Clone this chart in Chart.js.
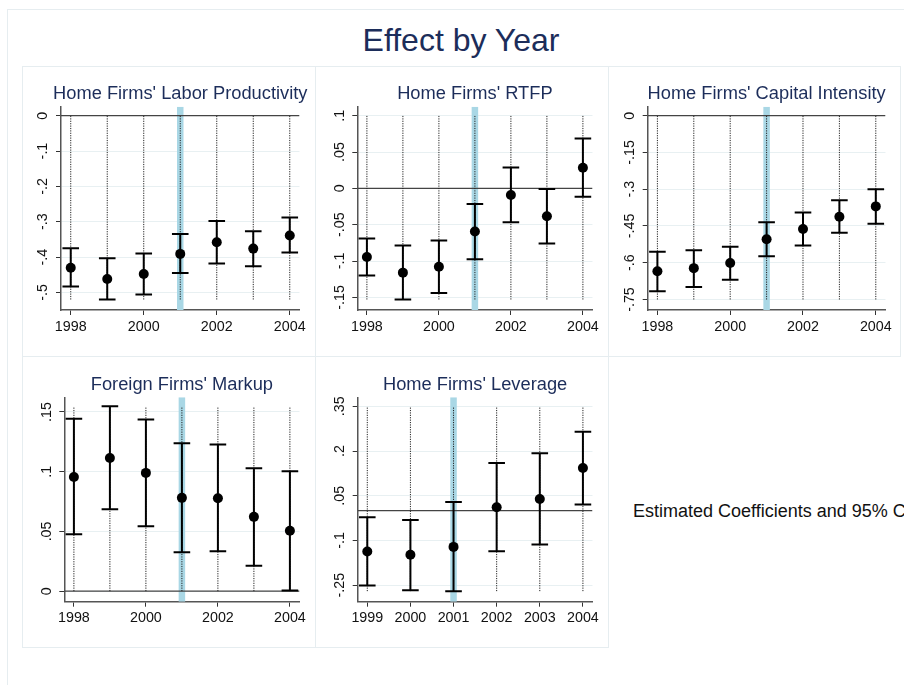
<!DOCTYPE html>
<html>
<head>
<meta charset="utf-8">
<title>Effect by Year</title>
<script src="https://cdn.jsdelivr.net/npm/chart.js@4"></script>
<style>
    html, body { margin: 0; padding: 0; background: #fff; }
    body { width: 904px; height: 685px; overflow: hidden; position: relative; font-family: "Liberation Sans", Arial, Helvetica, sans-serif; }
    .frame { position: absolute; left: 7px; top: 9px; width: 1200px; height: 1200px; border: 1px solid #e6edf0; }
    .title { position: absolute; left: 0; width: 922px; top: 24px; text-align: center; font-size: 32px; line-height: 1; color: #1c2d5a; }
    .panel { position: absolute; box-sizing: border-box; border: 1px solid #e6edf0; }
    .panel canvas { position: absolute; left: -1px; top: -1px; }
    .note { position: absolute; left: 633px; top: 502px; font-size: 18px; line-height: 1; color: #111; white-space: nowrap; }
</style>
</head>
<body>
<div class="frame"></div>
<div class="title">Effect by Year</div>
<div id="panels"></div>
<div class="note">Estimated Coefficients and 95% CI</div>

<script>
// years on the x axis
const yearsA = [1998, 1999, 2000, 2001, 2002, 2003, 2004];
const yearsB = [1999, 2000, 2001, 2002, 2003, 2004];
const eventYear = 2001;

// x tick labels
const xTicksA = [1998, 2000, 2002, 2004];
const xTicksB = [1999, 2000, 2001, 2002, 2003, 2004];

// Home Firms' Labor Productivity
const laborCoef = [-0.430, -0.462, -0.448, -0.391, -0.358, -0.376, -0.339];
const laborLo = [-0.483, -0.520, -0.506, -0.445, -0.418, -0.426, -0.387];
const laborHi = [-0.375, -0.403, -0.390, -0.335, -0.298, -0.327, -0.288];
const laborTicks = [0, -0.1, -0.2, -0.3, -0.4, -0.5];

// Home Firms' RTFP
const rtfpCoef = [-0.0945, -0.116, -0.108, -0.0594, -0.0091, -0.0384, 0.0283];
const rtfpLo = [-0.120, -0.153, -0.144, -0.0977, -0.0466, -0.0758, -0.0114];
const rtfpHi = [-0.069, -0.0785, -0.0717, -0.0215, 0.0288, -0.0009, 0.0685];
const rtfpTicks = [0.1, 0.05, 0, -0.05, -0.1, -0.15];

// Home Firms' Capital Intensity
const capCoef = [-0.635, -0.622, -0.601, -0.504, -0.462, -0.412, -0.370];
const capLo = [-0.716, -0.699, -0.669, -0.573, -0.530, -0.478, -0.441];
const capHi = [-0.555, -0.549, -0.535, -0.435, -0.395, -0.345, -0.300];
const capTicks = [0, -0.15, -0.3, -0.45, -0.6, -0.75];

// Foreign Firms' Markup
const markupCoef = [0.0956, 0.1115, 0.099, 0.0781, 0.0778, 0.0622, 0.0505];
const markupLo = [0.0477, 0.0686, 0.0544, 0.0326, 0.0335, 0.0212, 0.0006];
const markupHi = [0.1444, 0.1547, 0.1436, 0.1238, 0.1227, 0.1029, 0.1004];
const markupTicks = [0, 0.05, 0.1, 0.15];

// Home Firms' Leverage
const levCoef = [-0.137, -0.148, -0.1215, 0.0114, 0.039, 0.143];
const levLo = [-0.251, -0.267, -0.270, -0.136, -0.1137, 0.0204];
const levHi = [-0.022, -0.031, 0.0293, 0.160, 0.1925, 0.265];
const levTicks = [-0.25, -0.1, 0.05, 0.2, 0.35];

const FONT = '"Liberation Sans", Arial, Helvetica, sans-serif';
Chart.defaults.font.family = FONT;

function stataLabel(v) {
    const s = String(Math.round(v * 1000) / 1000);
    return s.replace(/^(-?)0\./, '$1.');
}

// rotated y tick labels and a panel title centred on the plot region, Stata style
const stataPlugin = {
    id: 'stataText',
    afterDraw(chart, args, opts) {
        const s = chart.scales.y;
        const area = chart.chartArea;
        const ctx = chart.ctx;
        ctx.save();
        ctx.font = '14.3px ' + FONT;
        ctx.fillStyle = '#111';
        ctx.textAlign = 'center';
        ctx.textBaseline = 'middle';
        s.ticks.forEach(t => {
            const y = s.getPixelForValue(t.value);
            ctx.save();
            ctx.translate(s.right - 17.7, y);
            ctx.rotate(-Math.PI / 2);
            ctx.fillText(stataLabel(t.value), 0, 0);
            ctx.restore();
        });
        ctx.font = '18.3px ' + FONT;
        ctx.fillStyle = '#1c2d5a';
        ctx.textBaseline = 'alphabetic';
        ctx.fillText(opts.text, (area.left + area.right) / 2, opts.baseline);
        ctx.restore();
    }
};

const panels = [
    { title: "Home Firms' Labor Productivity", years: yearsA, coef: laborCoef, lo: laborLo, hi: laborHi, yTicks: laborTicks, xTicks: xTicksA,
      left: 22, top: 66, w: 294, h: 291, areaLeft: 39, areaTop: 40.7, areaBottom: 244, titleBase: 33.3 },
    { title: "Home Firms' RTFP", years: yearsA, coef: rtfpCoef, lo: rtfpLo, hi: rtfpHi, yTicks: rtfpTicks, xTicks: xTicksA,
      left: 315, top: 66, w: 294, h: 291, areaLeft: 42.3, areaTop: 40.7, areaBottom: 244, titleBase: 33.3 },
    { title: "Home Firms' Capital Intensity", years: yearsA, coef: capCoef, lo: capLo, hi: capHi, yTicks: capTicks, xTicks: xTicksA,
      left: 608, top: 66, w: 293, h: 291, areaLeft: 39.7, areaTop: 40.7, areaBottom: 244, titleBase: 33.3 },
    { title: "Foreign Firms' Markup", years: yearsA, coef: markupCoef, lo: markupLo, hi: markupHi, yTicks: markupTicks, xTicks: xTicksA,
      left: 22, top: 356, w: 294, h: 292, areaLeft: 42.3, areaTop: 41.3, areaBottom: 245.7, titleBase: 34 },
    { title: "Home Firms' Leverage", years: yearsB, coef: levCoef, lo: levLo, hi: levHi, yTicks: levTicks, xTicks: xTicksB,
      left: 315, top: 356, w: 294, h: 292, areaLeft: 42.7, areaTop: 41.3, areaBottom: 245.7, titleBase: 34 }
];

function drawPanel(p) {
    const box = document.createElement('div');
    box.className = 'panel';
    box.style.left = p.left + 'px';
    box.style.top = p.top + 'px';
    box.style.width = p.w + 'px';
    box.style.height = p.h + 'px';
    const canvas = document.createElement('canvas');
    canvas.width = p.w;
    canvas.height = p.h;
    box.appendChild(canvas);
    document.getElementById('panels').appendChild(box);

    // range of the dotted guides = ticks plus intervals
    const dotLo = Math.min(...p.yTicks, ...p.lo);
    const dotHi = Math.max(...p.yTicks, ...p.hi);
    const span = dotHi - dotLo;
    const yMin = dotLo - span * 10.5 / 184;
    const yMax = dotHi + span * 9 / 184;
    const first = p.years[0], last = p.years[p.years.length - 1];
    const xPad = (last - first) * 9.6 / 216;
    const xMin = first - xPad, xMax = last + xPad;

    const points = p.years.map((x, i) => ({ x: x, y: p.coef[i] }));
    const caps = p.years.flatMap((x, i) => [{ x: x, y: p.lo[i] }, { x: x, y: p.hi[i] }]);
    const whiskers = p.years.flatMap((x, i) => [{ x: x, y: p.lo[i] }, { x: x, y: p.hi[i] }, { x: x, y: null }]);
    const guides = p.years.flatMap(x => [{ x: x, y: dotLo }, { x: x, y: dotHi }, { x: x, y: null }]);

    new Chart(canvas, {
        type: 'scatter',
        data: {
            datasets: [{
                data: points,
                pointRadius: 5,
                backgroundColor: '#000',
                borderWidth: 0,
                order: 0
            }, {
                data: caps,
                pointStyle: 'line',
                pointRadius: 8.3,
                borderColor: '#000',
                borderWidth: 2,
                order: 1
            }, {
                data: whiskers,
                showLine: true,
                spanGaps: false,
                pointRadius: 0,
                borderColor: '#000',
                borderWidth: 2,
                order: 2
            }, {
                data: guides,
                showLine: true,
                spanGaps: false,
                pointRadius: 0,
                borderColor: '#222',
                borderWidth: 1,
                borderDash: [1.2, 1.2],
                order: 3
            }, {
                data: [{ x: xMin, y: 0 }, { x: xMax, y: 0 }],
                showLine: true,
                pointRadius: 0,
                borderColor: '#444',
                borderWidth: 1.2,
                order: 4
            }, {
                data: [{ x: eventYear, y: yMin }, { x: eventYear, y: yMax }],
                showLine: true,
                pointRadius: 0,
                borderColor: '#a9d7e5',
                borderWidth: 6.5,
                order: 5
            }]
        },
        options: {
            responsive: false,
            animation: false,
            events: [],
            layout: { padding: { left: 0, top: p.areaTop, bottom: 0, right: p.w - 1 - 276.5 } },
            plugins: {
                legend: { display: false },
                tooltip: { enabled: false },
                title: { display: false },
                stataText: { text: p.title, baseline: p.titleBase }
            },
            scales: {
                x: {
                    type: 'linear',
                    min: xMin,
                    max: xMax,
                    bounds: 'data',
                    afterBuildTicks: s => { s.ticks = p.xTicks.map(v => ({ value: v })); },
                    afterFit: s => { s.height = p.h - p.areaBottom; },
                    ticks: {
                        color: '#111',
                        font: { size: 14.3 },
                        padding: 3,
                        maxRotation: 0,
                        autoSkip: false,
                        callback: v => String(v)
                    },
                    grid: { drawOnChartArea: false, drawTicks: true, tickLength: 5, tickColor: '#333', tickWidth: 1 },
                    border: { display: true, color: '#555', width: 1.5 }
                },
                y: {
                    type: 'linear',
                    min: yMin,
                    max: yMax,
                    bounds: 'data',
                    afterBuildTicks: s => { s.ticks = p.yTicks.map(v => ({ value: v })); },
                    afterFit: s => { s.width = p.areaLeft; },
                    ticks: { display: false },
                    grid: { color: '#e8f0f2', lineWidth: 1, drawTicks: true, tickLength: 5, tickColor: '#333', tickWidth: 1 },
                    border: { display: true, color: '#555', width: 1.5 }
                }
            }
        },
        plugins: [stataPlugin]
    });
}

panels.forEach(drawPanel);
</script>
</body>
</html>
